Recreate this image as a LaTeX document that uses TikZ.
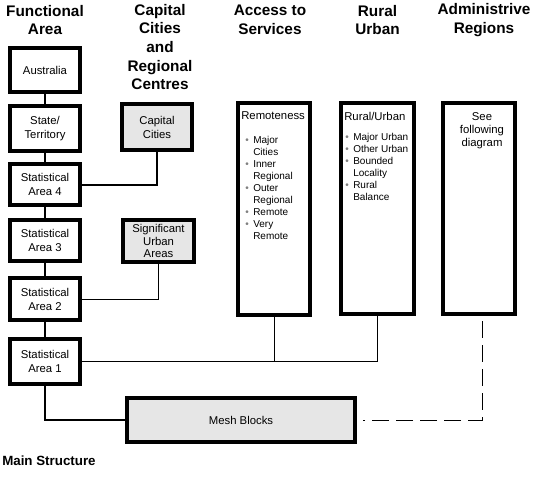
\documentclass[tikz,border=0pt]{standalone}
\usepackage{fontspec}
\setmainfont{Liberation Sans}
\usepackage{xcolor}
\usetikzlibrary{math}
\definecolor{boxgrey}{RGB}{230,230,230}
\newcommand{\blt}{\makebox[6pt][l]{\textcolor{gray}{\textbullet}}}
\newcommand{\ind}{\hspace*{6pt}}

\begin{document}
\begin{tikzpicture}[x=0.75pt,y=-0.75pt,
  head/.style={font=\fontsize{11.5}{14}\selectfont\bfseries, align=center, inner sep=0pt},
  box/.style 2 args={draw, line width=3pt, minimum width=0.75*#1pt, minimum height=0.75*#2pt,
    inner sep=0pt, align=center, font=\fontsize{8.5}{10.5}\selectfont},
  intext/.style={inner sep=0pt, font=\fontsize{8.5}{10}\selectfont},
  bullets/.style={inner sep=0pt, align=left, font=\fontsize{7.5}{9}\selectfont},
  lnk/.style={line width=1.5pt},
  thinlnk/.style={line width=0.75pt},
  dashlnk/.style={line width=0.75pt, dash pattern=on 12.75pt off 5.25pt}]
\tikzmath{
\xfa=45;
\xcc=157;
\xas=274;
\xru=377.5;
\xad=479;
}
\useasboundingbox (0,0) rectangle (538,479);

%headings
\node[head] (fahead) at (\xfa,20) {Functional\\Area};
\node[head] (cchead) at (160,47) {Capital\\Cities\\and\\Regional\\Centres};
\node[head] (ashead) at (270,20) {Access to\\Services};
\node[head] (ruhead) at (\xru,20) {Rural\\Urban};
\node[head] (adhead) at (484,20) {Administrive\\Regions};

%functional area
\node[box={70}{44}] (aus) at (\xfa,70) {Australia};
\node[box={70}{45}] (state) at (\xfa,128.5) {State/\\Territory};
\node[box={70}{41}] (sa4) at (\xfa,184.5) {Statistical\\Area 4};
\node[box={70}{41}] (sa3) at (\xfa,240.5) {Statistical\\Area 3};
\node[box={70}{42}] (sa2) at (\xfa,299) {Statistical\\Area 2};
\node[box={70}{45}] (sa1) at (\xfa,361.5) {Statistical\\Area 1};
\draw[lnk] (aus) -- (state) -- (sa4) -- (sa3) -- (sa2) -- (sa1);

%capital cities and regional centres
\node[box={70}{46}, fill=boxgrey] (capital) at (\xcc,127) {Capital\\Cities};
\node[box={71}{42}, fill=boxgrey, font=\fontsize{8.5}{9.5}\selectfont] (sua) at (158.5,241) {Significant\\Urban\\Areas};
\draw[lnk] (sa4.east) -| (capital.south);
\draw[thinlnk] (sa2.east) -| (sua.south);

%access, rural/urban, admin
\node[box={72}{212}] (remote) at (\xas,209) {};
\node[box={73}{211}] (rural) at (\xru,208.5) {};
\node[box={72}{211}] (admin) at (\xad,208.5) {};

\node[intext, anchor=west] (remotehd) at (241,116) {Remoteness};
\node[bullets, anchor=north west] (remotelist) at (245,136) {\blt Major\\ \ind Cities\\ \blt Inner\\ \ind Regional\\
  \blt Outer\\ \ind Regional\\ \blt Remote\\ \blt Very\\ \ind Remote};
\node[intext, anchor=west] (ruralhd) at (344,116) {Rural/Urban};
\node[bullets, anchor=north west] (rurallist) at (345,133) {\blt Major Urban\\ \blt Other Urban\\ \blt Bounded\\ \ind Locality\\
  \blt Rural\\ \ind Balance};
\node[intext, align=center, anchor=north] (admintxt) at (482,112) {See\\following\\diagram};

%mesh blocks
\node[box={228}{44}, fill=boxgrey] (mesh) at (241,420) {Mesh Blocks};
\draw[lnk] (sa1.south) |- (mesh.west);
\draw[thinlnk] (sa1.east) -| (rural.south);
\draw[thinlnk] (remote.south) -- (remote.south |- sa1.east);
\path (admin.south) ++(3,5) coordinate (dtop);
\path (mesh.east) ++(6,0) coordinate (dend);
\draw[dashlnk] (dtop) |- (dend);

\node[anchor=west, inner sep=0pt, font=\fontsize{10}{12}\selectfont\bfseries] (mainlbl) at (2,461) {Main Structure};
\end{tikzpicture}
\end{document}
